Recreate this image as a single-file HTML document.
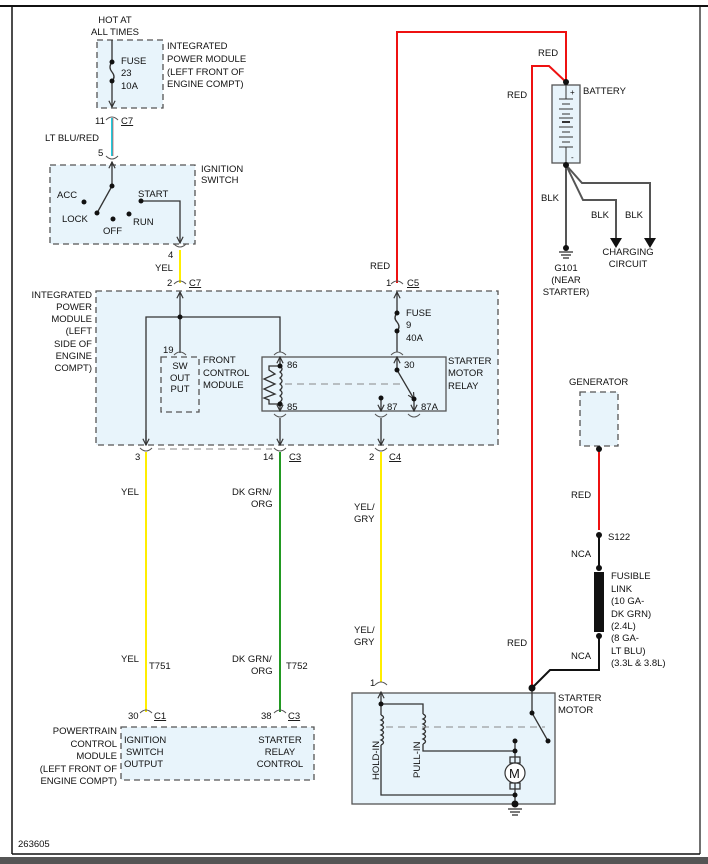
<!DOCTYPE html>
<html><head><meta charset="utf-8"><style>
html,body{margin:0;padding:0;background:#fff;}
svg{display:block;}
text{font-family:"Liberation Sans",Arial,sans-serif;font-size:9.5px;fill:#111;}
</style></head><body>
<svg width="708" height="864" viewBox="0 0 708 864" xmlns="http://www.w3.org/2000/svg">
<defs>
<marker id="ah" viewBox="0 0 10 10" refX="9" refY="5" markerWidth="6" markerHeight="6" orient="auto"><path d="M1,1 L9,5 L1,9" fill="none" stroke="#333" stroke-width="1.5"/></marker>
</defs>
<rect x="0" y="0" width="708" height="864" fill="#fff"/>
<line x1="0" y1="6" x2="708" y2="6" stroke="#111" stroke-width="2"/>
<line x1="12" y1="6" x2="12" y2="854" stroke="#111" stroke-width="1.5"/>
<line x1="700" y1="6" x2="700" y2="854" stroke="#111" stroke-width="1.2"/>
<line x1="12" y1="854" x2="700" y2="854" stroke="#111" stroke-width="1.5"/>
<rect x="0" y="857" width="708" height="7" fill="#555"/>

<g stroke="#555" stroke-width="1.3" stroke-dasharray="6,4" fill="#e8f4fb">
<rect x="97" y="40" width="66" height="68"/>
<rect x="50" y="165" width="145" height="79"/>
<rect x="96" y="291" width="402" height="154"/>
<rect x="161" y="357" width="38" height="55"/>
<rect x="121" y="727" width="193" height="53"/>
<rect x="580" y="392" width="38" height="54"/>
</g>
<rect x="262" y="357" width="184" height="54" fill="#e8f4fb" stroke="#555" stroke-width="1.3"/>
<rect x="352" y="693" width="203" height="111" fill="#e8f4fb" stroke="#555" stroke-width="1.3"/>
<rect x="552" y="85" width="28" height="78" fill="#e8f4fb" stroke="#555" stroke-width="1.3"/>

<g fill="none" stroke-width="2">
<line x1="112" y1="118" x2="112" y2="156" stroke="#22ccdd"/>
<line x1="113" y1="118" x2="113" y2="156" stroke="#cc3333" stroke-width="0.6"/>
<line x1="180" y1="250" x2="180" y2="283" stroke="#ffee00"/>
<polyline points="397,283 397,32 566,32 566,82" stroke="#ee1111"/>
<polyline points="532,686 532,66 549,66 566,82" stroke="#ee1111"/>
<line x1="599" y1="450" x2="599" y2="530" stroke="#ee1111"/>
<line x1="146" y1="452" x2="146" y2="712" stroke="#ffee00"/>
<line x1="280" y1="452" x2="280" y2="712" stroke="#229922"/>
<line x1="381" y1="452" x2="381" y2="682" stroke="#ffee00"/>
<polyline points="532,688 550,670 599,670 599,635" stroke="#111"/>
<line x1="599" y1="535" x2="599" y2="570" stroke="#111"/>
<g stroke="#555">
<line x1="566" y1="165" x2="566" y2="248"/>
<polyline points="566,165 583,200 616,200 616,238"/>
<polyline points="566,165 582,183 650,183 650,238"/>
</g>
</g>
<path d="M610,238 L622,238 L616,248Z M644,238 L656,238 L650,248Z" fill="#111"/>

<g fill="none" stroke="#333" stroke-width="1.3">
<line x1="112" y1="40" x2="112" y2="62"/>
<path d="M112,62 q-4,5 0,10 q4,5 0,9"/>
<line x1="112" y1="81" x2="112" y2="107" marker-end="url(#ah)"/>
<line x1="112" y1="186" x2="112" y2="162" marker-end="url(#ah)"/>
<line x1="112" y1="186" x2="97" y2="213"/>
<polyline points="141,201 180,201 180,243" marker-end="url(#ah)"/>
<line x1="180" y1="318" x2="180" y2="292" marker-end="url(#ah)"/>
<polyline points="146,445 146,317 280,317 280,352" />
<line x1="146" y1="430" x2="146" y2="445" marker-end="url(#ah)"/>
<line x1="180" y1="317" x2="180" y2="353"/>
<line x1="397" y1="313" x2="397" y2="292" marker-end="url(#ah)"/>
<path d="M397,313 q-4,5 0,9 q4,5 0,9"/>
<line x1="397" y1="331" x2="397" y2="352"/>
<line x1="280" y1="366" x2="280" y2="357" marker-end="url(#ah)"/>
<line x1="280" y1="404" x2="280" y2="411" marker-end="url(#ah)"/>
<path d="M280,366 q4,3 0,6 q4,3 0,6 q4,3 0,6 q4,3 0,6 q4,3 0,6 q4,3 0,6 q4,3 0,2"/>
<polyline points="280,366 269,366 269,370 275,374 264,379 275,384 264,389 275,394 264,398 269,400 269,404 280,404"/>
<line x1="397" y1="370" x2="397" y2="357" marker-end="url(#ah)"/>
<line x1="397" y1="370" x2="414" y2="399" marker-end="url(#ah)"/>
<line x1="381" y1="398" x2="381" y2="411" marker-end="url(#ah)"/>
<line x1="414" y1="400" x2="414" y2="411" marker-end="url(#ah)"/>
<line x1="280" y1="418" x2="280" y2="445" marker-end="url(#ah)"/>
<line x1="381" y1="418" x2="381" y2="445" marker-end="url(#ah)"/>
<line x1="381" y1="704" x2="381" y2="692" marker-end="url(#ah)"/>
<path d="M423,744 L423,751 L515,751 M381,745 L381,795 L515,795 M381,704 L423,704 L423,714 M381,704 L381,715"/>
<path d="M381,715 q5,2.5 0,5 q5,2.5 0,5 q5,2.5 0,5 q5,2.5 0,5 q5,2.5 0,5 q5,2.5 0,5 M423,714 q5,2.5 0,5 q5,2.5 0,5 q5,2.5 0,5 q5,2.5 0,5 q5,2.5 0,5 q5,2.5 0,5"/>
<line x1="515" y1="741" x2="515" y2="763"/>
<line x1="515" y1="783" x2="515" y2="804"/>
<rect x="510" y="757" width="10" height="6"/>
<rect x="510" y="783" width="10" height="6"/>
<polyline points="532,688 532,713 548,741"/>
<line x1="508" y1="809" x2="522" y2="809"/><line x1="510" y1="812" x2="520" y2="812"/><line x1="512" y1="815" x2="518" y2="815"/>
<line x1="559" y1="252" x2="573" y2="252"/><line x1="561" y1="255" x2="571" y2="255"/><line x1="563" y1="258" x2="569" y2="258"/>
</g>
<circle cx="515" cy="773" r="10" fill="#fff" stroke="#333" stroke-width="1.2"/>
<text x="509" y="778" style="font-size:13px">M</text>
<g stroke="#888" stroke-width="1" stroke-dasharray="7,5" fill="none">
<line x1="285" y1="384" x2="405" y2="384"/>
<line x1="386" y1="727" x2="545" y2="727"/>
<line x1="158" y1="449" x2="272" y2="449"/>
</g>
<g stroke="#333" stroke-width="1">
<line x1="559" y1="99" x2="573" y2="99"/><line x1="562" y1="104" x2="570" y2="104"/>
<line x1="559" y1="109" x2="573" y2="109"/><line x1="562" y1="114" x2="570" y2="114"/>
<line x1="559" y1="118" x2="573" y2="118"/><line x1="562" y1="122" x2="570" y2="122" stroke-width="2"/>
<line x1="559" y1="127" x2="573" y2="127"/><line x1="562" y1="132" x2="570" y2="132"/>
<line x1="559" y1="137" x2="573" y2="137"/><line x1="562" y1="142" x2="570" y2="142"/>
<line x1="559" y1="147" x2="573" y2="147"/><line x1="566" y1="85" x2="566" y2="99"/><line x1="566" y1="147" x2="566" y2="163"/>
</g>
<rect x="594" y="572" width="10" height="60" fill="#111"/>
<g fill="none" stroke="#555" stroke-width="1">
<path d="M106,120 q6,-6 12,0 M106,156 q6,6 12,0 M174,244 q6,6 12,0 M174,284 q6,-6 12,0 M391,284 q6,-6 12,0 M174,355 q6,-6 12,0 M274,355 q6,-6 12,0 M391,355 q6,-6 12,0 M274,414 q6,6 12,0 M375,414 q6,6 12,0 M408,414 q6,6 12,0 M140,448 q6,6 12,0 M274,448 q6,6 12,0 M375,448 q6,6 12,0 M140,713 q6,-6 12,0 M274,713 q6,-6 12,0 M375,685 q6,-6 12,0"/>
</g>
<g fill="#111">
<circle cx="112" cy="62" r="2.5"/><circle cx="112" cy="81" r="2.5"/>
<circle cx="112" cy="186" r="2.5"/><circle cx="84" cy="202" r="2.5"/><circle cx="97" cy="213" r="2.5"/><circle cx="113" cy="219" r="2.5"/><circle cx="129" cy="214" r="2.5"/><circle cx="141" cy="201" r="2.5"/>
<circle cx="180" cy="317" r="2.5"/><circle cx="397" cy="313" r="2.5"/><circle cx="397" cy="331" r="2.5"/>
<circle cx="280" cy="366" r="2.5"/><circle cx="280" cy="404" r="2.5"/><circle cx="397" cy="370" r="2.5"/><circle cx="381" cy="398" r="2.5"/><circle cx="414" cy="399" r="2.5"/>
<circle cx="566" cy="82" r="3"/><circle cx="566" cy="165" r="3"/><circle cx="566" cy="248" r="3"/>
<circle cx="599" cy="449" r="3"/><circle cx="599" cy="535" r="3"/><circle cx="599" cy="568" r="3"/><circle cx="599" cy="636" r="3"/>
<circle cx="532" cy="688" r="3.5"/><circle cx="532" cy="713" r="2.5"/><circle cx="548" cy="741" r="2.5"/>
<circle cx="381" cy="704" r="2.5"/><circle cx="515" cy="741" r="2.5"/><circle cx="515" cy="751" r="2.5"/><circle cx="515" cy="795" r="2.5"/><circle cx="515" cy="804" r="3.5"/>
</g>
<g>
<text x="115" y="23" text-anchor="middle">HOT AT</text><text x="115" y="35" text-anchor="middle">ALL TIMES</text>
<text x="121" y="64">FUSE</text><text x="121" y="76">23</text><text x="121" y="89">10A</text>
<text x="167" y="49">INTEGRATED</text><text x="167" y="62">POWER MODULE</text><text x="167" y="75">(LEFT FRONT OF</text><text x="167" y="87">ENGINE COMPT)</text>
<text x="95" y="124">11</text><text x="121" y="124" text-decoration="underline">C7</text>
<text x="45" y="141">LT BLU/RED</text><text x="98" y="156">5</text>
<text x="201" y="172">IGNITION</text><text x="201" y="183">SWITCH</text>
<text x="57" y="198">ACC</text><text x="62" y="222">LOCK</text><text x="103" y="234">OFF</text><text x="133" y="225">RUN</text><text x="138" y="197">START</text>
<text x="168" y="258">4</text><text x="155" y="271">YEL</text><text x="167" y="286">2</text><text x="189" y="286" text-decoration="underline">C7</text>
<text x="370" y="269">RED</text><text x="386" y="286">1</text><text x="407" y="286" text-decoration="underline">C5</text>
<text x="538" y="56">RED</text><text x="507" y="98">RED</text>
<text x="583" y="94">BATTERY</text><text x="570" y="95" style="font-size:8px">+</text><text x="571" y="160" style="font-size:8px">-</text>
<text x="541" y="201">BLK</text><text x="591" y="218">BLK</text><text x="625" y="218">BLK</text>
<text x="628" y="255" text-anchor="middle">CHARGING</text><text x="628" y="267" text-anchor="middle">CIRCUIT</text>
<text x="566" y="271" text-anchor="middle">G101</text><text x="566" y="283" text-anchor="middle">(NEAR</text><text x="566" y="295" text-anchor="middle">STARTER)</text>
<g text-anchor="end"><text x="92" y="298">INTEGRATED</text><text x="92" y="310">POWER</text><text x="92" y="322">MODULE</text><text x="92" y="334">(LEFT</text><text x="92" y="347">SIDE OF</text><text x="92" y="359">ENGINE</text><text x="92" y="371">COMPT)</text></g>
<text x="163" y="353">19</text>
<g text-anchor="middle"><text x="180" y="369">SW</text><text x="180" y="381">OUT</text><text x="180" y="392">PUT</text></g>
<text x="203" y="363">FRONT</text><text x="203" y="376">CONTROL</text><text x="203" y="388">MODULE</text>
<text x="406" y="316">FUSE</text><text x="406" y="328">9</text><text x="406" y="341">40A</text>
<text x="287" y="368">86</text><text x="287" y="410">85</text><text x="404" y="368">30</text><text x="387" y="410">87</text><text x="421" y="410">87A</text>
<text x="448" y="364">STARTER</text><text x="448" y="376">MOTOR</text><text x="448" y="389">RELAY</text>
<text x="135" y="460">3</text><text x="263" y="460">14</text><text x="289" y="460" text-decoration="underline">C3</text><text x="369" y="460">2</text><text x="389" y="460" text-decoration="underline">C4</text>
<text x="569" y="385">GENERATOR</text>
<text x="121" y="495">YEL</text><text x="232" y="495">DK GRN/</text><text x="251" y="507">ORG</text>
<text x="354" y="510">YEL/</text><text x="354" y="522">GRY</text>
<text x="571" y="498">RED</text><text x="608" y="540">S122</text><text x="571" y="557">NCA</text><text x="571" y="659">NCA</text>
<text x="611" y="579">FUSIBLE</text><text x="611" y="592">LINK</text><text x="611" y="604">(10 GA-</text><text x="611" y="617">DK GRN)</text><text x="611" y="629">(2.4L)</text><text x="611" y="641">(8 GA-</text><text x="611" y="654">LT BLU)</text><text x="611" y="666">(3.3L &amp; 3.8L)</text>
<text x="354" y="633">YEL/</text><text x="354" y="645">GRY</text><text x="507" y="646">RED</text>
<text x="121" y="662">YEL</text><text x="149" y="669">T751</text><text x="232" y="662">DK GRN/</text><text x="251" y="674">ORG</text><text x="286" y="669">T752</text>
<text x="370" y="686">1</text>
<text x="558" y="701">STARTER</text><text x="558" y="713">MOTOR</text>
<text x="128" y="719">30</text><text x="154" y="719" text-decoration="underline">C1</text><text x="261" y="719">38</text><text x="288" y="719" text-decoration="underline">C3</text>
<g text-anchor="end"><text x="117" y="734">POWERTRAIN</text><text x="117" y="747">CONTROL</text><text x="117" y="759">MODULE</text><text x="117" y="772">(LEFT FRONT OF</text><text x="117" y="784">ENGINE COMPT)</text></g>
<text x="124" y="743">IGNITION</text><text x="126" y="755">SWITCH</text><text x="124" y="767">OUTPUT</text>
<g text-anchor="middle"><text x="280" y="743">STARTER</text><text x="280" y="755">RELAY</text><text x="280" y="767">CONTROL</text></g>
<text transform="translate(379,780) rotate(-90)">HOLD-IN</text>
<text transform="translate(420,778) rotate(-90)">PULL-IN</text>
<text x="18" y="847">263605</text>
</g>
</svg>
</body></html>
